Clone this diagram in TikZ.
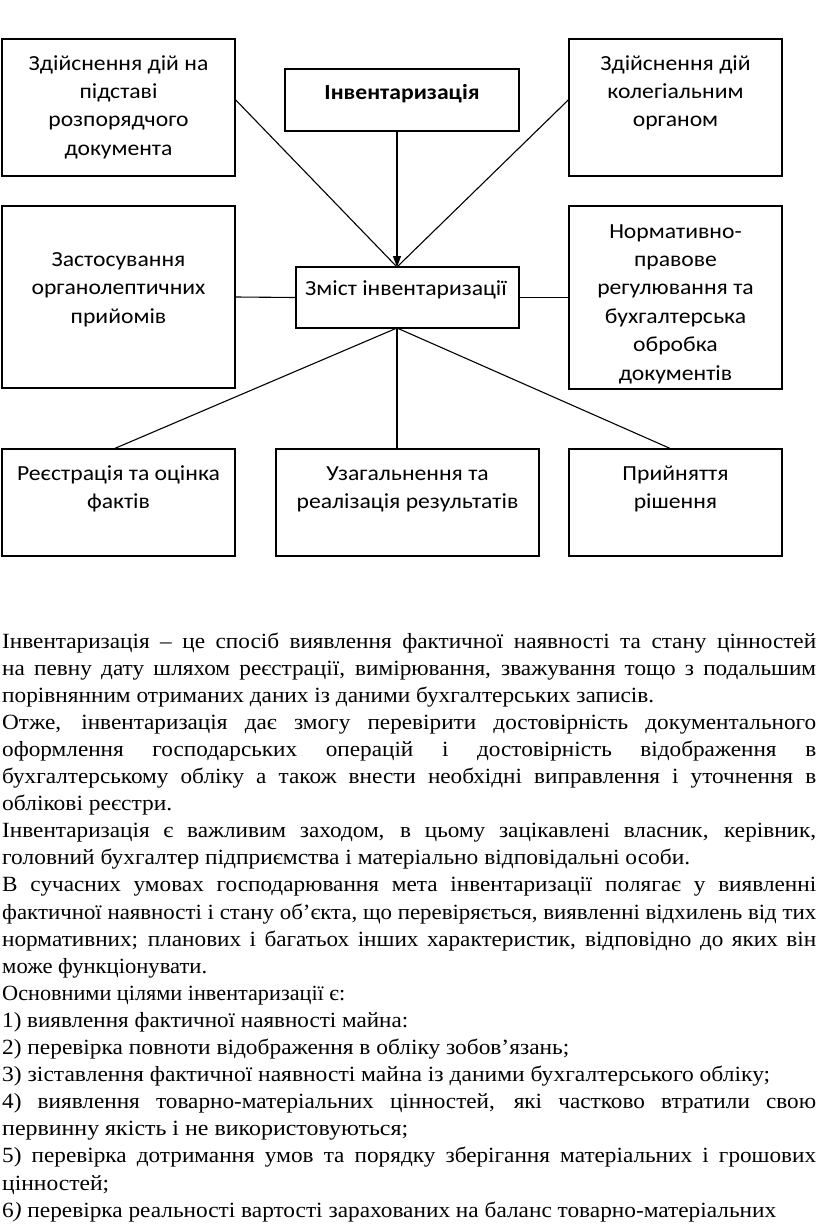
\documentclass[tikz,border=0pt]{standalone}
\usepackage{fontspec}
\usepackage{graphicx}
\setmainfont[FakeStretch=1.07]{Liberation Serif}
\newfontfamily\boxfont[FakeStretch=1.1]{Carlito}
\usetikzlibrary{arrows.meta,calc}
\newcommand\btext[1]{\parbox[t]{232pt}{\fontsize{21.5pt}{28.4pt}\selectfont\centering #1}}
\newcommand\fitline[2]{\resizebox{#1}{\height}{#2}}
\begin{document}
\begin{tikzpicture}[x=1pt,y=-1pt,
  box/.style={draw, line width=1.3pt, inner sep=0pt, rectangle},
  btxt/.style={inner sep=0pt, anchor=base, font=\boxfont},
  conn/.style={line width=1.1pt},
  ltxt/.style={inner sep=0pt, anchor=base west, font=\fontsize{21.7pt}{27pt}\selectfont}]
\useasboundingbox (0,0) rectangle (816,1226);
\fill[white] (0,0) rectangle (816,1226);

% boxes
\node[box, minimum width=233pt, minimum height=137pt] (tl) at (118.5,107.5) {};
\node[box, minimum width=234pt, minimum height=62pt] (inv) at (402,100) {};
\node[box, minimum width=213pt, minimum height=137pt] (tr) at (675.5,107.5) {};
\node[box, minimum width=233pt, minimum height=182pt] (lm) at (118.5,297) {};
\node[box, minimum width=223pt, minimum height=61pt] (zm) at (407.5,297.5) {};
\node[box, minimum width=213pt, minimum height=183pt] (rm) at (675.5,297.5) {};
\node[box, minimum width=233pt, minimum height=107pt] (bl) at (118.5,502.5) {};
\node[box, minimum width=263pt, minimum height=107pt] (bm) at (407.5,502.5) {};
\node[box, minimum width=213pt, minimum height=107pt] (br) at (675.5,502.5) {};

% box texts
\node[btxt] (tlT) at (118.5,70) {\btext{Здійснення дій на\\підставі\\розпорядчого\\документа}};
\node[btxt] (invT) at (402,99) {\btext{\bfseries Інвентаризація}};
\node[btxt] (trT) at (675.5,70) {\btext{Здійснення дій\\колегіальним\\органом}};
\node[btxt] (lmT) at (118.5,266.5) {\btext{Застосування\\органолептичних\\прийомів}};
\node[btxt] (zmT) at (406,295) {\btext{Зміст інвентаризації}};
\node[btxt] (rmT) at (675.5,238) {\btext{Нормативно-\\правове\\регулювання та\\бухгалтерська\\обробка\\документів}};
\node[btxt] (blT) at (118.5,480) {\btext{Реєстрація та оцінка\\фактів}};
\node[btxt] (bmT) at (407.5,480) {\btext{Узагальнення та\\реалізація результатів}};
\node[btxt] (brT) at (675.5,480) {\btext{Прийняття\\рішення}};

% connectors
\coordinate (hub) at (397,267);
\coordinate (hubS) at (397,328);
\draw[conn] ($(tl.north east)!0.445!(tl.south east)$) -- (hub);
\draw[conn] ($(tr.north west)!0.445!(tr.south west)$) -- (hub);
\draw[conn, -{Triangle[length=11pt,width=8pt]}] (inv.south -| hub) -- (hub);
\draw[conn] (lm.east) -- (zm.west);
\draw[conn] (zm.east) -- (rm.west);
\draw[conn] (hubS) -- ($(bl.north west)!0.485!(bl.north east)$);
\draw[conn] (hubS) -- (hubS |- bm.north);
\draw[conn] (hubS) -- ($(br.north west)!0.474!(br.north east)$);

% body text
\node[ltxt] (p1) at (2,648) {\makebox[814pt][s]{Інвентаризація – це спосіб виявлення фактичної наявності та стану цінностей}};
\node[ltxt] (p2) at (2,675.1) {\makebox[814pt][s]{на певну дату шляхом реєстрації, вимірювання, зважування тощо з подальшим}};
\node[ltxt] (p3) at (2,702.2) {\fitline{652pt}{порівнянним отриманих даних із даними бухгалтерських записів.}};
\node[ltxt] (p4) at (2,729.3) {\makebox[814pt][s]{Отже, інвентаризація дає змогу перевірити достовірність документального}};
\node[ltxt] (p5) at (2,756.4) {\makebox[814pt][s]{оформлення господарських операцій і достовірність відображення в}};
\node[ltxt] (p6) at (2,783.5) {\makebox[814pt][s]{бухгалтерському обліку а також внести необхідні виправлення і уточнення в}};
\node[ltxt] (p7) at (2,810.6) {\fitline{170pt}{облікові реєстри.}};
\node[ltxt] (p8) at (2,837.7) {\makebox[814pt][s]{Інвентаризація є важливим заходом, в цьому зацікавлені власник, керівник,}};
\node[ltxt] (p9) at (2,864.8) {\fitline{688pt}{головний бухгалтер підприємства і матеріально відповідальні особи.}};
\node[ltxt] (p10) at (2,891.9) {\makebox[814pt][s]{В сучасних умовах господарювання мета інвентаризації полягає у виявленні}};
\node[ltxt] (p11) at (2,919) {\fitline{814pt}{фактичної наявності і стану об’єкта, що перевіряється, виявленні відхилень від тих}};
\node[ltxt] (p12) at (2,946.1) {\makebox[814pt][s]{нормативних; планових і багатьох інших характеристик, відповідно до яких він}};
\node[ltxt] (p13) at (2,973.2) {\fitline{205pt}{може функціонувати.}};
\node[ltxt] (p14) at (2,1000.3) {\fitline{343pt}{Основними цілями інвентаризації є:}};
\node[ltxt] (p15) at (2,1027.4) {\fitline{406pt}{1) виявлення фактичної наявності майна:}};
\node[ltxt] (p16) at (2,1054.5) {\fitline{567pt}{2) перевірка повноти відображення в обліку зобов’язань;}};
\node[ltxt] (p17) at (2,1081.6) {\fitline{768pt}{3) зіставлення фактичної наявності майна із даними бухгалтерського обліку;}};
\node[ltxt] (p18) at (2,1108.7) {\makebox[814pt][s]{4) виявлення товарно-матеріальних цінностей, які частково втратили свою}};
\node[ltxt] (p19) at (2,1135.8) {\fitline{406pt}{первинну якість і не використовуються;}};
\node[ltxt] (p20) at (2,1162.9) {\makebox[814pt][s]{5) перевірка дотримання умов та порядку зберігання матеріальних і грошових}};
\node[ltxt] (p21) at (2,1190) {\fitline{107pt}{цінностей;}};
\node[ltxt] (p22) at (2,1217.1) {\fitline{774pt}{6\textit{)} перевірка реальності вартості зарахованих на баланс товарно-матеріальних}};
\end{tikzpicture}
\end{document}
